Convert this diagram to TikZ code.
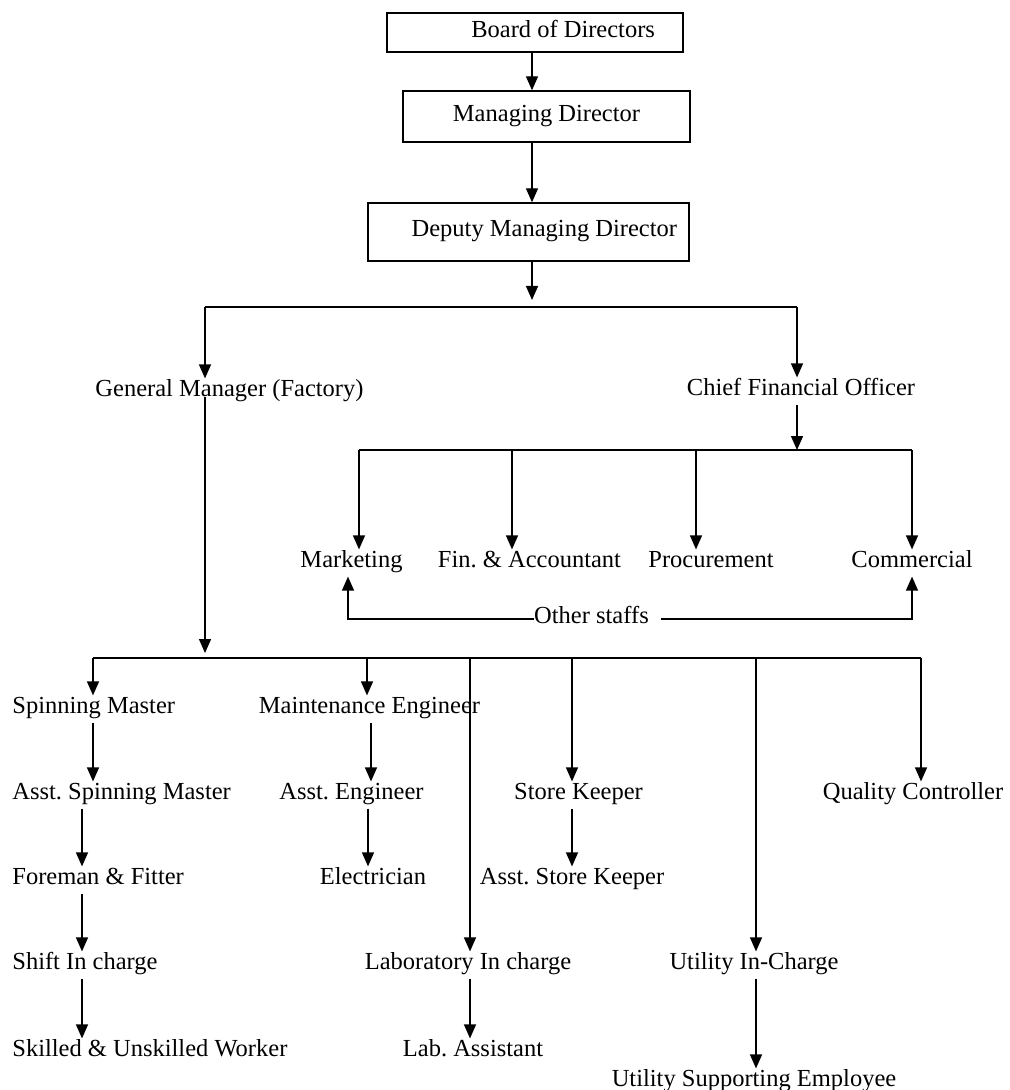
\documentclass[tikz,border=0pt]{standalone}
\usepackage{fontspec}
\setmainfont{Liberation Serif}
\usetikzlibrary{arrows.meta}
\frenchspacing

\begin{document}
\begin{tikzpicture}[x=0.5pt,y=-0.5pt,
        post/.style={inner xsep=0pt,inner ysep=2pt,text height=0.7em,text depth=0.22em,font=\fontsize{12.25}{14}\selectfont},
        postbox/.style={post,draw,line width=0.7pt,inner ysep=0pt},
        link/.style={line width=0.7pt,-{Triangle[width=6pt,length=7pt]}},
        bus/.style={line width=0.7pt}]
    \useasboundingbox (0,0) rectangle (1009,1090);
    % boxes at the top
    \node[postbox,minimum height=19.5pt,inner xsep=14pt,text width=120pt,align=flush right] (bod) at (535,32.5) {Board of Directors};
    \node[postbox,minimum width=143.5pt,minimum height=25.5pt] (md) at (546.5,116.5) {Managing Director};
    \node[postbox,minimum height=29pt,inner xsep=6pt,text width=148.5pt,align=flush right] (dmd) at (528.5,232) {Deputy Managing Director};
    % posts
    \node[post] (gm) at (229.5,392) {General Manager (Factory)};
    \node[post] (cfo) at (801,391) {Chief Financial Officer};
    \node[post] (mkt) at (351.5,563) {Marketing};
    \node[post] (fin) at (529.5,563) {Fin. \& Accountant};
    \node[post] (proc) at (711,563) {Procurement};
    \node[post] (comm) at (912,563) {Commercial};
    \node[post] (oth) at (591.5,619) {Other staffs};
    \node[post,anchor=west] (spm) at (12,709) {Spinning Master};
    \node[post] (me) at (369.5,709) {Maintenance Engineer};
    \node[post,anchor=west] (asm) at (12,795) {Asst. Spinning Master};
    \node[post] (ae) at (351.5,795) {Asst. Engineer};
    \node[post] (sk) at (578.5,795) {Store Keeper};
    \node[post] (qc) at (913,795) {Quality Controller};
    \node[post,anchor=west] (fore) at (12,880) {Foreman \& Fitter};
    \node[post] (elec) at (373,880) {Electrician};
    \node[post] (ask) at (572,880) {Asst. Store Keeper};
    \node[post,anchor=west] (shift) at (12,965) {Shift In charge};
    \node[post] (lab) at (468,965) {Laboratory In charge};
    \node[post] (uic) at (754,965) {Utility In-Charge};
    \node[post,anchor=west] (suw) at (12,1052) {Skilled \& Unskilled Worker};
    \node[post] (laba) at (473,1052) {Lab. Assistant};
    \node[post] (use) at (754,1082) {Utility Supporting Employee};
    % joints on the lines
    \coordinate (trunk) at (532,307);
    \coordinate (jl) at (205,307);
    \coordinate (jr) at (797,307);
    \coordinate (k1) at (359,450);
    \coordinate (k2) at (512,450);
    \coordinate (k3) at (696,450);
    \coordinate (k4) at (912,450);
    \coordinate (g1) at (93,658);
    \coordinate (g2) at (367,658);
    \coordinate (g3) at (470,658);
    \coordinate (g4) at (572,658);
    \coordinate (g5) at (756,658);
    \coordinate (g6) at (921,658);
    \coordinate (xa) at (82,0);
    \coordinate (xb) at (371,0);
    \coordinate (xc) at (368,0);
    % top
    \draw[link] (bod.south -| trunk) -- (md.north -| trunk);
    \draw[link] (md.south -| trunk) -- (dmd.north -| trunk);
    \draw[link,shorten >=3.5pt] (dmd.south -| trunk) -- (trunk);
    \draw[bus] (jl) -- (jr);
    \draw[link] (jl) -- (jl |- gm.north);
    \draw[link] (jr) -- (jr |- cfo.north);
    % finance side
    \draw[link] (jr |- cfo.south) -- (jr |- k1);
    \draw[bus] (k1) -- (k4);
    \foreach \k/\n in {k1/mkt,k2/fin,k3/proc,k4/comm}
        \draw[link] (\k) -- (\k |- \n.north);
    \draw[link] (oth.west) -| ([xshift=-1.75pt]mkt.south);
    \draw[link] ([xshift=6pt]oth.east) -| (comm.south);
    % factory side
    \draw[link,shorten >=2.5pt] (jl |- gm.base) -- (jl |- g1);
    \draw[bus] (g1) -- (g6);
    \foreach \g/\n in {g1/spm,g2/me,g3/lab,g4/sk,g5/uic,g6/qc}
        \draw[link] (\g) -- (\g |- \n.north);
    \draw[link] (g1 |- spm.south) -- (g1 |- asm.north);
    \draw[link] (asm.south -| xa) -- (fore.north -| xa);
    \draw[link] (fore.south -| xa) -- (shift.north -| xa);
    \draw[link] (shift.south -| xa) -- (suw.north -| xa);
    \draw[link] (me.south -| xb) -- (ae.north -| xb);
    \draw[link] (ae.south -| xc) -- (elec.north -| xc);
    \draw[link] (g4 |- sk.south) -- (g4 |- ask.north);
    \draw[link] (g3 |- lab.south) -- (g3 |- laba.north);
    \draw[link] (g5 |- uic.south) -- (g5 |- use.north);
\end{tikzpicture}
\end{document}
